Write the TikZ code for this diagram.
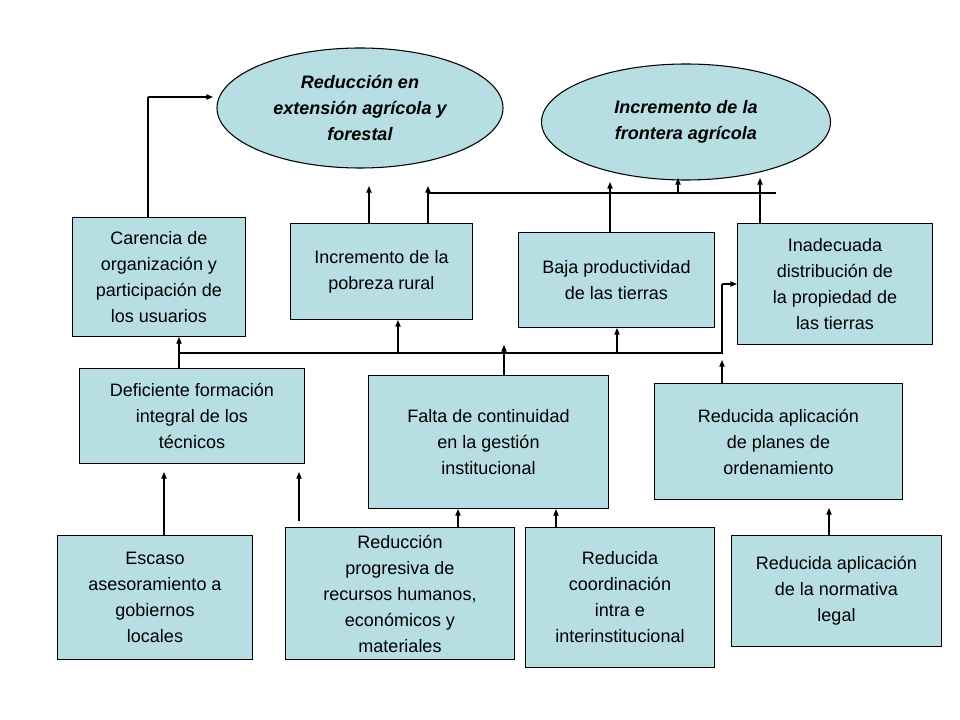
\documentclass[tikz,border=0pt]{standalone}
\usepackage{fontspec}
\setmainfont{Liberation Sans}
\usetikzlibrary{shapes.geometric,arrows.meta}
\definecolor{fillc}{HTML}{B7DEE3}
\begin{document}
\begin{tikzpicture}[x=0.75pt,y=-0.75pt,
 bx/.style={draw,fill=fillc,line width=0.8pt,inner sep=0pt,align=center,font=\fontsize{13.5}{19.5}\selectfont},
 el/.style={draw,fill=fillc,ellipse,line width=0.8pt,inner sep=0pt,align=center,font=\fontsize{13.5}{19.5}\selectfont\bfseries\itshape},
 ar/.style={-{Triangle[length=5pt,width=4pt]},line width=0.8pt},
 ln/.style={line width=0.8pt}]
\useasboundingbox (0,0) rectangle (960,720);
\fill[white] (0,0) rectangle (960,720);
\node[el,minimum width=286*0.75pt,minimum height=120*0.75pt] (e1) at (360,108) {Reducción en\\extensión agrícola y\\forestal};
\node[el,minimum width=289*0.75pt,minimum height=116*0.75pt] (e2) at (686,122) {Incremento de la\\frontera agrícola};
\newcommand{\bxat}[6]{\node[bx,minimum width=#4*0.75pt-0.8pt,minimum height=#5*0.75pt-0.8pt] (#1) at (#2,#3) {#6};}
\bxat{car}{159}{277}{174}{120}{Carencia de\\organización y\\participación de\\los usuarios}
\bxat{pob}{381.5}{271.5}{183}{97}{Incremento de la\\pobreza rural}
\bxat{baj}{616.5}{280}{197}{96}{Baja productividad\\de las tierras}
\bxat{ina}{835}{284}{196}{122}{Inadecuada\\distribución de\\la propiedad de\\las tierras}
\bxat{def}{192}{416}{226}{96}{Deficiente formación\\integral de los\\técnicos}
\bxat{fal}{488.5}{442}{241}{134}{Falta de continuidad\\en la gestión\\institucional}
\bxat{pla}{778.5}{441.5}{249}{117}{Reducida aplicación\\de planes de\\ordenamiento}
\bxat{esc}{155}{597.5}{196}{125}{Escaso\\asesoramiento a\\gobiernos\\locales}
\bxat{red}{400}{593.5}{230}{133}{Reducción\\progresiva de\\recursos humanos,\\económicos y\\materiales}
\bxat{coo}{620}{597.5}{190}{141}{Reducida\\coordinación\\intra e\\interinstitucional}
\bxat{nor}{836.5}{591}{211}{112}{Reducida aplicación\\de la normativa\\legal}
% top connectors
\coordinate (c1) at (148,97);
\draw[ln] (car.north -| c1) -- (c1);
\draw[ar] (c1) -- (213,97) coordinate (e1w);
\draw[ar] (pob.north -| 369,0) -- (369,186);
\draw[ar] (pob.north -| 428,0) -- (428,186);
\draw[ln] (428,193) coordinate (h1) -- (776,193) coordinate (h2);
\draw[ar] (678,193) -- (678,178);
\draw[ar] (ina.north -| 760,0) -- (760,178);
\draw[ar] (baj.north -| 610,0) -- (610,182);
% middle
\draw[ar] (def.north -| 179,0) -- (car.south -| 179,0);
\draw[ln] (179,353) coordinate (m1) -- (722,353) -- (722,284) coordinate (m2);
\draw[ar] (m2) -- (ina.west |- m2);
\draw[ar] (398,353) -- (pob.south -| 398,0);
\draw[ar] (fal.north -| 504,0) -- (504,345);
\draw[ar] (617,353) -- (baj.south -| 617,0);
\draw[ar] (pla.north -| 722,0) -- (722,360);
% bottom
\draw[ar] (esc.north -| 164,0) -- (164,472);
\draw[ar] (299,521) coordinate (fr) -- (299,472);
\draw[ar] (red.north -| 458,0) -- (fal.south -| 458,0);
\draw[ar] (coo.north -| 556,0) -- (fal.south -| 556,0);
\draw[ar] (nor.north -| 829,0) -- (829,508);
\end{tikzpicture}
\end{document}
